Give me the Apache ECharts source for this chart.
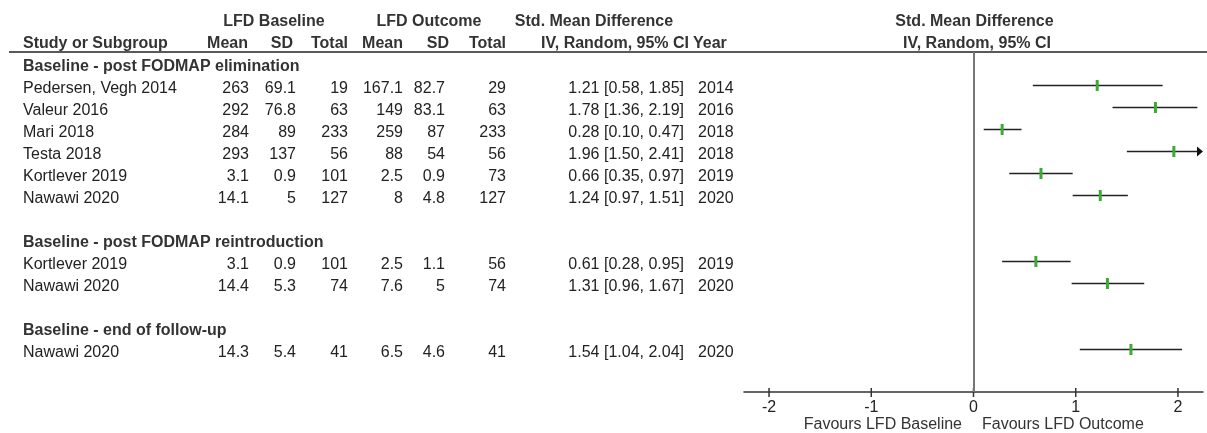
<!DOCTYPE html>
<html>
<head>
<meta charset="utf-8">
<title>Forest plot – LFD baseline vs outcome</title>
<script src="https://cdn.jsdelivr.net/npm/echarts@6/dist/echarts.min.js"></script>
<style>
  html, body { margin: 0; padding: 0; background: #fff; }
  #chart { width: 1207px; height: 433px; }
</style>
</head>
<body>
<div id="chart"></div>
<script>
// ---- data: one inner array per subgroup ----
const groupTitles = [
  'Baseline - post FODMAP elimination',
  'Baseline - post FODMAP reintroduction',
  'Baseline - end of follow-up'
];
const studies = [
  ['Pedersen, Vegh 2014', 'Valeur 2016', 'Mari 2018', 'Testa 2018', 'Kortlever 2019', 'Nawawi 2020'],
  ['Kortlever 2019', 'Nawawi 2020'],
  ['Nawawi 2020']
];
const baseMean  = [[263, 292, 284, 293, 3.1, 14.1], [3.1, 14.4], [14.3]];
const baseSD    = [[69.1, 76.8, 89, 137, 0.9, 5], [0.9, 5.3], [5.4]];
const baseTotal = [[19, 63, 233, 56, 101, 127], [101, 74], [41]];
const outMean   = [[167.1, 149, 259, 88, 2.5, 8], [2.5, 7.6], [6.5]];
const outSD     = [[82.7, 83.1, 87, 54, 0.9, 4.8], [1.1, 5], [4.6]];
const outTotal  = [[29, 63, 233, 56, 73, 127], [56, 74], [41]];
const smd       = [[1.21, 1.78, 0.28, 1.96, 0.66, 1.24], [0.61, 1.31], [1.54]];
const ciLow     = [[0.58, 1.36, 0.10, 1.50, 0.35, 0.97], [0.28, 0.96], [1.04]];
const ciHigh    = [[1.85, 2.19, 0.47, 2.41, 0.97, 1.51], [0.95, 1.67], [2.04]];
const years     = [[2014, 2016, 2018, 2018, 2019, 2020], [2019, 2020], [2020]];
const tickValues = [-2, -1, 0, 1, 2];

// ---- layout ----
const FONT = '"Liberation Sans", Arial, Helvetica, sans-serif';
const FS = 16;
const TXT = '#222';
const HEAD = '#333';
const GREEN = '#3aab35';
const X_MIN = -2.245, X_MAX = 2.245;
const Y_MIN = -0.5227, Y_MAX = 14.9318;
const TEXT_SHIFT = 3;

// table column anchors
const COL = {
  study: 23, bMean: 249, bSD: 296, bTot: 348,
  oMean: 403, oSD: 445, oTot: 506, ci: 684, year: 698
};

// build table rows: heading, studies, blank spacer per subgroup
const tableRows = [];
const forestRows = [];
let r = 0;
groupTitles.forEach((title, g) => {
  tableRows.push({ r: r, heading: title });
  r++;
  studies[g].forEach((name, k) => {
    tableRows.push({
      r: r, name: name,
      cells: [baseMean[g][k], baseSD[g][k], baseTotal[g][k],
              outMean[g][k], outSD[g][k], outTotal[g][k]],
      ci: smd[g][k].toFixed(2) + ' [' + ciLow[g][k].toFixed(2) + ', ' + ciHigh[g][k].toFixed(2) + ']',
      year: years[g][k]
    });
    forestRows.push([ciLow[g][k], ciHigh[g][k], smd[g][k], r]);
    r++;
  });
  r++;
});

function txt(x, y, text, align, bold, color) {
  return {
    type: 'text', x: x, y: y,
    style: {
      text: String(text), align: align || 'left', verticalAlign: 'middle',
      fontFamily: FONT, fontSize: FS, fontWeight: bold ? 'bold' : 'normal',
      fill: color || TXT
    }
  };
}

const chart = echarts.init(document.getElementById('chart'), null, { renderer: 'canvas' });

const option = {
  backgroundColor: '#fff',
  animation: false,
  grid: {
    left: 744, right: 4, top: 52, bottom: 41,
    containLabel: false, outerBoundsMode: 'none'
  },
  xAxis: {
    type: 'value', min: X_MIN, max: X_MAX, position: 'bottom',
    splitLine: { show: false },
    axisLine: { show: true, onZero: false, lineStyle: { color: '#333', width: 1.5 } },
    axisTick: { show: false },
    axisLabel: {
      customValues: tickValues,
      formatter: v => String(v),
      color: TXT, fontSize: FS, fontFamily: FONT, margin: 8
    }
  },
  yAxis: {
    type: 'value', show: false, inverse: true, min: Y_MIN, max: Y_MAX
  },
  graphic: [
    // column headers
    txt(274, 22, 'LFD Baseline', 'center', true, HEAD),
    txt(429, 22, 'LFD Outcome', 'center', true, HEAD),
    txt(594, 22, 'Std. Mean Difference', 'center', true, HEAD),
    txt(974.5, 22, 'Std. Mean Difference', 'center', true, HEAD),
    txt(COL.study, 44, 'Study or Subgroup', 'left', true, HEAD),
    txt(248, 44, 'Mean', 'right', true, HEAD),
    txt(293, 44, 'SD', 'right', true, HEAD),
    txt(348, 44, 'Total', 'right', true, HEAD),
    txt(403, 44, 'Mean', 'right', true, HEAD),
    txt(449, 44, 'SD', 'right', true, HEAD),
    txt(506, 44, 'Total', 'right', true, HEAD),
    txt(689, 44, 'IV, Random, 95% CI', 'right', true, HEAD),
    txt(693, 44, 'Year', 'left', true, HEAD),
    txt(977, 44, 'IV, Random, 95% CI', 'center', true, HEAD),
    {
      type: 'line',
      shape: { x1: 9, y1: 52, x2: 1207, y2: 52 },
      style: { stroke: '#222', lineWidth: 1.5 }
    },
    // direction labels under the axis
    txt(962, 425, 'Favours LFD Baseline', 'right', false, HEAD),
    txt(982, 425, 'Favours LFD Outcome', 'left', false, HEAD)
  ],
  series: [
    {
      // table body: subgroup headings and study rows
      name: 'table',
      type: 'custom',
      clip: false,
      silent: true,
      data: tableRows.map(t => [0, t.r]),
      encode: { x: 0, y: 1 },
      renderItem: function (params, api) {
        const row = tableRows[params.dataIndex];
        const y = api.coord([0, row.r])[1] + TEXT_SHIFT;
        if (row.heading) {
          return { type: 'group', children: [txt(COL.study, y, row.heading, 'left', true, HEAD)] };
        }
        const c = row.cells;
        return {
          type: 'group',
          children: [
            txt(COL.study, y, row.name, 'left'),
            txt(COL.bMean, y, c[0], 'right'),
            txt(COL.bSD, y, c[1], 'right'),
            txt(COL.bTot, y, c[2], 'right'),
            txt(COL.oMean, y, c[3], 'right'),
            txt(COL.oSD, y, c[4], 'right'),
            txt(COL.oTot, y, c[5], 'right'),
            txt(COL.ci, y, row.ci, 'right'),
            txt(COL.year, y, row.year, 'left')
          ]
        };
      }
    },
    {
      // confidence intervals and point estimates
      name: 'SMD',
      type: 'custom',
      clip: false,
      data: forestRows,
      encode: { x: [0, 1, 2], y: 3 },
      renderItem: function (params, api) {
        const lo = api.value(0), hi = api.value(1), est = api.value(2), row = api.value(3);
        const clipped = hi > X_MAX;
        const p0 = api.coord([lo, row]);
        const pEnd = api.coord([Math.min(hi, X_MAX), row]);
        const pm = api.coord([est, row]);
        const children = [];
        const lineEnd = clipped ? pEnd[0] - 5 : pEnd[0];
        children.push({
          type: 'line',
          shape: { x1: p0[0], y1: p0[1], x2: lineEnd, y2: p0[1] },
          style: { stroke: '#222', lineWidth: 1.5 }
        });
        if (clipped) {
          children.push({
            type: 'polygon',
            shape: { points: [[pEnd[0] - 6, pEnd[1] - 5], [pEnd[0], pEnd[1]], [pEnd[0] - 6, pEnd[1] + 5]] },
            style: { fill: '#111' }
          });
        }
        children.push({
          type: 'rect',
          shape: { x: pm[0] - 1.5, y: pm[1] - 5.5, width: 3, height: 11 },
          style: { fill: GREEN }
        });
        return { type: 'group', children: children };
      },
      markLine: {
        silent: true,
        symbol: ['none', 'none'],
        label: { show: false },
        lineStyle: { color: '#777', width: 2, type: 'solid' },
        data: [{ xAxis: 0 }]
      }
    },
    {
      // axis ticks crossing the axis line
      name: 'ticks',
      type: 'custom',
      clip: false,
      silent: true,
      data: tickValues.map(v => [v, Y_MAX]),
      encode: { x: 0, y: 1 },
      renderItem: function (params, api) {
        const p = api.coord([api.value(0), api.value(1)]);
        return {
          type: 'line',
          shape: { x1: p[0], y1: p[1] - 4, x2: p[0], y2: p[1] + 5 },
          style: { stroke: '#333', lineWidth: 1.5 }
        };
      }
    }
  ]
};

chart.setOption(option);
</script>
</body>
</html>
